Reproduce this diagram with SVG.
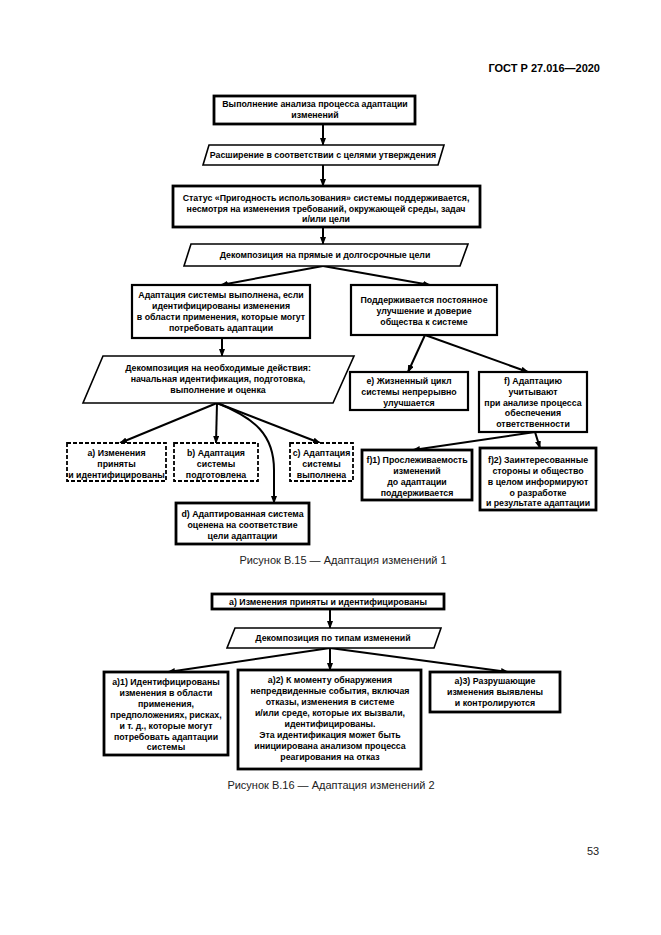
<svg xmlns="http://www.w3.org/2000/svg" width="661" height="935" viewBox="0 0 661 935">
<style>
.bg{fill:#fff}
.box{fill:#fff;stroke:#000;stroke-width:2.2}
.thick{fill:#fff;stroke:#000;stroke-width:2.8}
.dash{fill:#fff;stroke:#000;stroke-width:1.8;stroke-dasharray:4 2}
.para{fill:#fff;stroke:#000;stroke-width:1.6}
.t{font-family:"Liberation Sans",Arial,sans-serif;font-size:8.8px;font-weight:bold;text-anchor:middle;fill:#000}
.cap{font-family:"Liberation Sans",Arial,sans-serif;font-size:11px;text-anchor:middle;fill:#222}
.hdr{font-family:"Liberation Sans",Arial,sans-serif;font-size:11px;font-weight:bold;fill:#000}
.c{fill:none;stroke:#000;stroke-width:2;marker-end:url(#ah)}
</style>
<defs>
<marker id="ah" markerUnits="userSpaceOnUse" markerWidth="8" markerHeight="6" refX="7" refY="3" orient="auto">
<path d="M0,0 L8,3 L0,6 z" fill="#000"/>
</marker>
</defs>
<rect class="bg" x="0" y="0" width="661" height="935"/>
<text class="hdr" x="600" y="72" text-anchor="end">ГОСТ Р 27.016—2020</text>

<g id="connectors">
<path class="c" d="M323,124 V145"/>
<path class="c" d="M323,165 V186"/>
<path class="c" d="M323,227 V244"/>
<path class="c" d="M323,266 L221,285"/>
<path class="c" d="M323,266 L430,285"/>
<path class="c" d="M222,338 V356"/>
<path class="c" d="M217,403 L120,443"/>
<path class="c" d="M217,403 L216,443"/>
<path class="c" d="M217,403 L320,443"/>
<path class="c" d="M217,403 C255,418 274,435 274,470 L274,503"/>
<path class="c" d="M425,335 L408,372"/>
<path class="c" d="M425,335 L528,372"/>
<path class="c" d="M535,432 L413,450"/>
<path class="c" d="M535,432 L540,448"/>
<path class="c" d="M330,609 V628"/>
<path class="c" d="M330,648 L168,672"/>
<path class="c" d="M330,648 V670"/>
<path class="c" d="M330,648 L508,672"/>
</g>

<g id="n1"><rect class="thick" x="214" y="96" width="201" height="28"/>
<text class="t" x="315"><tspan x="315" y="107">Выполнение анализа процесса адаптации</tspan><tspan x="315" y="118">изменений</tspan></text></g>

<g id="n2"><polygon class="para" points="209,145 444,145 438,165 203,165"/>
<text class="t" x="323" y="158">Расширение в соответствии с целями утверждения</text></g>

<g id="n3"><rect class="thick" x="173" y="186" width="307" height="41"/>
<text class="t"><tspan x="326" y="201">Статус «Пригодность использования» системы поддерживается,</tspan><tspan x="326" y="211.5">несмотря на изменения требований, окружающей среды, задач</tspan><tspan x="326" y="222">и/или цели</tspan></text></g>

<g id="n4"><polygon class="para" points="191,244 468,244 460,266 184,266"/>
<text class="t" x="325" y="258">Декомпозиция на прямые и долгосрочные цели</text></g>

<g id="n5"><rect class="box" x="132" y="285" width="178" height="53"/>
<text class="t"><tspan x="221" y="298">Адаптация системы выполнена, если</tspan><tspan x="221" y="309">идентифицированы изменения</tspan><tspan x="221" y="320">в области применения, которые могут</tspan><tspan x="221" y="331">потребовать адаптации</tspan></text></g>

<g id="n6"><polygon class="para" points="103,356 354,356 333,403 83,403"/>
<text class="t"><tspan x="218" y="371">Декомпозиция на необходимые действия:</tspan><tspan x="218" y="382">начальная идентификация, подготовка,</tspan><tspan x="218" y="393">выполнение и оценка</tspan></text></g>

<g id="na"><rect class="dash" x="67" y="443" width="99" height="38"/>
<text class="t"><tspan x="116.5" y="456">а) Изменения</tspan><tspan x="116.5" y="467">приняты</tspan><tspan x="116.5" y="478">и идентифицированы</tspan></text></g>

<g id="nb"><rect class="dash" x="174" y="443" width="84" height="38"/>
<text class="t"><tspan x="216" y="456">b) Адаптация</tspan><tspan x="216" y="467">системы</tspan><tspan x="216" y="478">подготовлена</tspan></text></g>

<g id="nc"><rect class="dash" x="290" y="443" width="63" height="38"/>
<text class="t"><tspan x="321.5" y="456">с) Адаптация</tspan><tspan x="321.5" y="467">системы</tspan><tspan x="321.5" y="478">выполнена</tspan></text></g>

<g id="nd"><rect class="thick" x="176" y="503" width="133" height="41"/>
<text class="t"><tspan x="242.5" y="517">d) Адаптированная система</tspan><tspan x="242.5" y="528">оценена на соответствие</tspan><tspan x="242.5" y="539">цели адаптации</tspan></text></g>

<g id="n7"><rect class="box" x="351" y="285" width="146" height="50"/>
<text class="t"><tspan x="424" y="303">Поддерживается постоянное</tspan><tspan x="424" y="314">улучшение и доверие</tspan><tspan x="424" y="325">общества к системе</tspan></text></g>

<g id="ne"><rect class="box" x="350" y="372" width="118" height="38"/>
<text class="t"><tspan x="409" y="384">е) Жизненный цикл</tspan><tspan x="409" y="395">системы непрерывно</tspan><tspan x="409" y="406">улучшается</tspan></text></g>

<g id="nf"><rect class="box" x="479" y="372" width="108" height="60"/>
<text class="t"><tspan x="533" y="384">f) Адаптацию</tspan><tspan x="533" y="395">учитывают</tspan><tspan x="533" y="405.5">при анализе процесса</tspan><tspan x="533" y="416">обеспечения</tspan><tspan x="533" y="426.5">ответственности</tspan></text></g>

<g id="nf1"><rect class="thick" x="362" y="450" width="110" height="50"/>
<text class="t"><tspan x="417" y="463">f)1) Прослеживаемость</tspan><tspan x="417" y="474">изменений</tspan><tspan x="417" y="485">до адаптации</tspan><tspan x="417" y="496">поддерживается</tspan></text></g>

<g id="nf2"><rect class="thick" x="480" y="448" width="116" height="62"/>
<text class="t"><tspan x="538" y="463">f)2) Заинтересованные</tspan><tspan x="538" y="474">стороны и общество</tspan><tspan x="538" y="485">в целом информируют</tspan><tspan x="538" y="495.5">о разработке</tspan><tspan x="538" y="506">и результате адаптации</tspan></text></g>

<text class="cap" x="343" y="564">Рисунок В.15 — Адаптация изменений 1</text>

<g id="m1"><rect class="thick" x="212" y="594" width="232" height="15"/>
<text class="t" x="328" y="605">а) Изменения приняты и идентифицированы</text></g>

<g id="m2"><polygon class="para" points="235,628 441,628 434,648 227,648"/>
<text class="t" x="333" y="641">Декомпозиция по типам изменений</text></g>

<g id="m3"><rect class="thick" x="104" y="672" width="124" height="83"/>
<text class="t"><tspan x="166" y="685">а)1) Идентифицированы</tspan><tspan x="166" y="696">изменения в области</tspan><tspan x="166" y="707">применения,</tspan><tspan x="166" y="718">предположениях, рисках,</tspan><tspan x="166" y="729">и т. д., которые могут</tspan><tspan x="166" y="740">потребовать адаптации</tspan><tspan x="166" y="750">системы</tspan></text></g>

<g id="m4"><rect class="thick" x="238" y="670" width="183" height="99"/>
<text class="t"><tspan x="330" y="683">а)2) К моменту обнаружения</tspan><tspan x="330" y="694">непредвиденные события, включая</tspan><tspan x="330" y="705">отказы, изменения в системе</tspan><tspan x="330" y="716">и/или среде, которые их вызвали,</tspan><tspan x="330" y="727">идентифицированы.</tspan><tspan x="330" y="738">Эта идентификация может быть</tspan><tspan x="330" y="749">инициирована анализом процесса</tspan><tspan x="330" y="760">реагирования на отказ</tspan></text></g>

<g id="m5"><rect class="thick" x="430" y="672" width="130" height="40"/>
<text class="t"><tspan x="495" y="684">а)3) Разрушающие</tspan><tspan x="495" y="695">изменения выявлены</tspan><tspan x="495" y="706">и контролируются</tspan></text></g>

<text class="cap" x="331" y="789">Рисунок В.16 — Адаптация изменений 2</text>
<text class="cap" x="593" y="855" fill="#000">53</text>
</svg>
